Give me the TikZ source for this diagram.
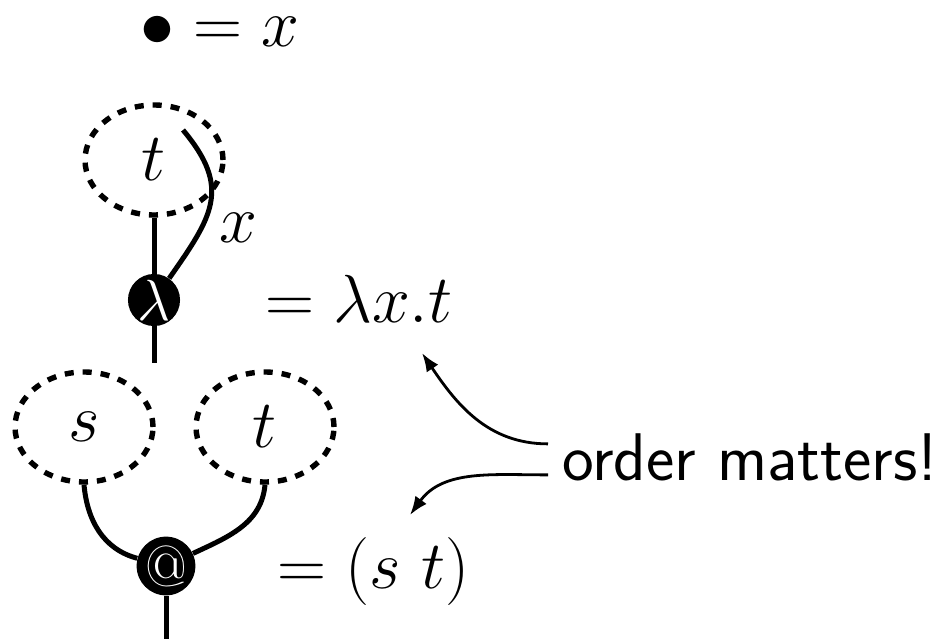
\RequirePackage{fix-cm}
\documentclass[tikz,border=0pt]{standalone}
\usepackage{amsmath}
\usepackage{tikz}
\usetikzlibrary{arrows.meta,shapes.geometric,positioning}

\begin{document}
\begin{tikzpicture}[x=0.5pt,y=0.5pt,>=Latex,
  font=\fontsize{34}{40}\selectfont,
  wire/.style={line width=2.5pt},
  hole/.style={ellipse,draw,line width=2.7pt,dash pattern=on 4.5pt off 4.5pt,
    minimum width=69pt,minimum height=55pt,inner sep=0pt},
  binder/.style={circle,fill=black,text=white,minimum size=24pt,inner sep=0pt,
    font=\fontsize{29}{29}\selectfont},
  pointer/.style={->,line width=1.4pt}]
\useasboundingbox (0,0) rectangle (938,639);
% a variable is a bare dot
\node[anchor=base,inner sep=0pt] (vardef) at (220,592) {$\bullet = x$};
% abstraction: body with a back wire to the binder
\node[hole] (body) at (154,479) {$t$};
\node[binder] (lam) at (154,339) {$\lambda$};
\coordinate (lamroot) at (154,276);
\coordinate (bound) at (183,509);
\draw[wire] (body) -- (lam) -- (lamroot);
\draw[wire] (bound) to[out=-50,in=55,looseness=1.3] (lam);
\node (boundlbl) at (238,411) {$x$};
\node[anchor=base west,inner sep=0pt] (lameq) at (265,317) {$=\lambda x.t$};
% application: function on the left, argument on the right
\node[hole] (fun) at (84,212) {$s$};
\node[hole] (arg) at (265,212) {$t$};
\node[binder] (app) at (166,73) {@};
\coordinate (approot) at (166,0);
\draw[wire] (fun.south) to[out=-85,in=165] (app);
\draw[wire] (arg.south) to[out=-95,in=25] (app);
\draw[wire] (app) -- (approot);
\node[anchor=base west,inner sep=0pt] (appeq) at (277,51) {$=(s\ t)$};
% remark
\node[anchor=base west,inner sep=0pt,font=\fontsize{33.7}{40}\sffamily] (note) at (562,159) {order matters!};
\coordinate (tipA) at (422,286);
\coordinate (tipB) at (410,124);
\draw[pointer] ([shift={(-7pt,6.5pt)}]note.west) to[out=180,in=-56] (tipA);
\draw[pointer] ([shift={(-7pt,-9pt)}]note.west) to[out=180,in=54] (tipB);
\end{tikzpicture}
\end{document}
